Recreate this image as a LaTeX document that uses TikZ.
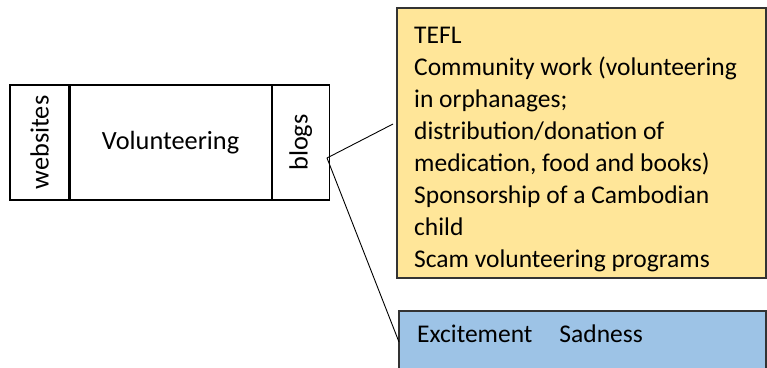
\documentclass[tikz,border=0pt]{standalone}
\usepackage{fontspec}
\setmainfont{Carlito}
\usetikzlibrary{positioning}
\definecolor{notebg}{HTML}{FFE699}
\definecolor{feelbg}{HTML}{9DC3E6}
\tikzset{
  cell/.style={draw, line width=1.1pt, minimum height=115pt, inner sep=0pt,
    font=\fontsize{26.3}{30}\selectfont},
  note/.style={inner sep=0pt, align=left, font=\fontsize{25.5}{32}\selectfont},
}
\begin{document}
\begin{tikzpicture}[x=1pt,y=-1pt]
  \useasboundingbox (0,0) rectangle (767,367);
  \clip (0,0) rectangle (767,367);

  % SOURCES
  \node[cell, minimum width=59pt] (websites) at (39.5,142.5) {\rotatebox{90}{websites}};
  \node[cell, minimum width=201pt, right=0pt of websites] (vol) {Volunteering};
  \node[cell, minimum width=57pt, right=0pt of vol] (blogs) {\rotatebox{90}{blogs}};

  % THEMES
  \node[draw=black!80, line width=1.1pt, fill=notebg, minimum width=369pt,
        minimum height=270pt] (themes) at (581.5,143) {};
  \node[note, anchor=north west] (themetext) at (414,27) {TEFL\\
    Community work (volunteering\\
    in orphanages;\\
    distribution/donation of\\
    medication, food and books)\\
    Sponsorship of a Cambodian\\
    child\\
    Scam volunteering programs};

  % FEELINGS
  \draw[fill=feelbg, draw=black!80, line width=1.1pt] (399,311) rectangle (766,380);
  \node[note, anchor=base west] (feel) at (417,342) {Excitement\hspace{27pt}Sadness};

  % LINES
  \coordinate (hub) at (327,158);
  \coordinate (toThemes) at (393,124);
  \coordinate (toFeel) at (399,342);
  \draw[line width=0.9pt, line join=round] (toThemes) -- (hub) -- (toFeel);
\end{tikzpicture}
\end{document}
